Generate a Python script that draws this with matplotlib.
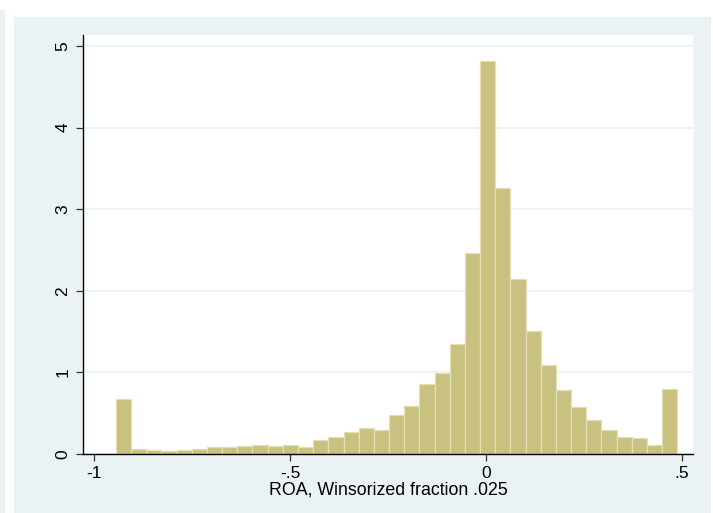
import matplotlib
matplotlib.use("Agg")
import matplotlib.pyplot as plt
from matplotlib.patches import Rectangle
import numpy as np

# Data (density per bin)
bin_start = -0.944
bin_width = 0.0387
density = [0.67, 0.06, 0.055, 0.035, 0.045, 0.058, 0.082, 0.09, 0.098, 0.106,
           0.094, 0.11, 0.085, 0.17, 0.21, 0.27, 0.315, 0.295, 0.474, 0.59,
           0.855, 0.996, 1.35, 2.46, 4.82, 3.26, 2.15, 1.51, 1.09, 0.79,
           0.58, 0.42, 0.30, 0.21, 0.19, 0.106, 0.80]
x_ticks = [-1, -0.5, 0, 0.5]
x_tick_labels = ["-1", "-.5", "0", ".5"]
y_ticks = [0, 1, 2, 3, 4, 5]
y_tick_labels = ["0", "1", "2", "3", "4", "5"]
x_label = "ROA, Winsorized fraction .025"

plt.rcParams['font.family'] = ['Liberation Sans', 'DejaVu Sans']

W, H = 713, 513
fig = plt.figure(figsize=(W / 100, H / 100), dpi=100)
fig.patch.set_facecolor('white')

grey = '#EAF2F3'
# left strip and main graph region
fig.patches.append(Rectangle((0, 0), 5 / W, 1 - 10 / H, transform=fig.transFigure,
                             facecolor=grey, edgecolor='none', zorder=-10))
fig.patches.append(Rectangle((14 / W, 0), (711 - 14) / W, 1 - 17 / H,
                             transform=fig.transFigure, facecolor=grey,
                             edgecolor='none', zorder=-10))

ax = fig.add_axes([83 / W, 1 - 454 / H, (693 - 83) / W, (454 - 35) / H])
ax.set_facecolor('white')

lefts = [bin_start + i * bin_width for i in range(len(density))]
ax.bar(lefts, density, width=bin_width, align='edge',
       color='#C9C17F', edgecolor='#E4DFB4', linewidth=0.9, zorder=3)

ax.set_xlim(-1.028, 0.528)
ax.set_ylim(0, 5.135)

ax.set_yticks(y_ticks)
ax.set_yticklabels(y_tick_labels, rotation=90, va='center')
ax.set_xticks(x_ticks)
ax.set_xticklabels(x_tick_labels)

ax.yaxis.grid(True, color='#EAF2F3', linewidth=1.2, zorder=0)
ax.set_axisbelow(True)

for s in ['top', 'right']:
    ax.spines[s].set_visible(False)
for s in ['left', 'bottom']:
    ax.spines[s].set_color('black')
    ax.spines[s].set_linewidth(1.0)
    ax.spines[s].set_zorder(5)

ax.tick_params(axis='both', direction='out', length=5, width=0.9,
               colors='#333333', labelcolor='black', labelsize=12.5)
ax.tick_params(axis='x', pad=4)
ax.tick_params(axis='y', pad=4)

ax.set_xlabel(x_label, fontsize=12.75, labelpad=0)

fig.savefig('out.png', dpi=100, facecolor=fig.get_facecolor())
